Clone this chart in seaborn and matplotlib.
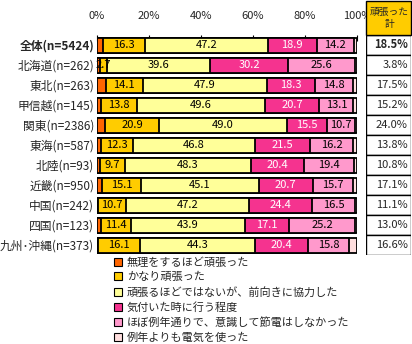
import matplotlib
matplotlib.use("Agg")
import matplotlib.pyplot as plt
import seaborn as sns
import pandas as pd
import numpy as np
from matplotlib.patches import Patch, Rectangle

sns.set_theme(style="white")
plt.rcParams['font.family'] = ['Noto Sans CJK JP', 'DejaVu Sans']

categories = ["全体(n=5424)", "北海道(n=262)", "東北(n=263)", "甲信越(n=145)", "関東(n=2386)",
              "東海(n=587)", "北陸(n=93)", "近畿(n=950)", "中国(n=242)", "四国(n=123)", "九州･沖縄(n=373)"]
series_names = ["無理をするほど頑張った", "かなり頑張った", "頑張るほどではないが、前向きに協力した",
                "気付いた時に行う程度", "ほぼ例年通りで、意識して節電はしなかった", "例年よりも電気を使った"]
s1 = [2.2, 1.1, 3.4, 1.4, 3.1, 1.5, 1.1, 2.0, 0.4, 1.6, 0.5]
s2 = [16.3, 2.7, 14.1, 13.8, 20.9, 12.3, 9.7, 15.1, 10.7, 11.4, 16.1]
s3 = [47.2, 39.6, 47.9, 49.6, 49.0, 46.8, 48.3, 45.1, 47.2, 43.9, 44.3]
s4 = [18.9, 30.2, 18.3, 20.7, 15.5, 21.5, 20.4, 20.7, 24.4, 17.1, 20.4]
s5 = [14.2, 25.6, 14.8, 13.1, 10.7, 16.2, 19.4, 15.7, 16.5, 25.2, 15.8]
s6 = [1.2, 0.8, 1.5, 1.4, 0.8, 1.7, 1.1, 1.4, 0.8, 0.8, 2.9]
total_label = ["18.5%", "3.8%", "17.5%", "15.2%", "24.0%", "13.8%", "10.8%", "17.1%", "11.1%", "13.0%", "16.6%"]
xticks = [0, 20, 40, 60, 80, 100]
xtick_labels = ["0%", "20%", "40%", "60%", "80%", "100%"]
header = "頑張った\n計"

colors = ["#FF6600", "#FFCC00", "#FFFF99", "#F5338F", "#FF99CC", "#FFDEDE"]
series = [s1, s2, s3, s4, s5, s6]

W, H = 412, 344
fig = plt.figure(figsize=(W / 100, H / 100), dpi=100)
ax = fig.add_axes([97 / W, 1 - 255 / H, 260 / W, 220 / H])

vals = np.array(series)
cum = np.cumsum(vals, axis=0)
df = pd.DataFrame({"cat": categories})
for i in range(len(series)):
    df[f"c{i}"] = cum[i]

for i in reversed(range(len(series))):
    sns.barplot(data=df, x=f"c{i}", y="cat", color=colors[i], edgecolor="black",
                linewidth=1.3, width=0.75, orient="h", ax=ax, saturation=1)

ax.set_xlim(0, 100)
ax.set_ylim(10.5, -0.5)
ax.set_xlabel("")
ax.set_ylabel("")
for sp in ax.spines.values():
    sp.set_visible(False)
ax.xaxis.tick_top()
ax.set_xticks(xticks)
ax.set_xticklabels(xtick_labels, fontsize=8)
ax.tick_params(axis="x", direction="in", length=4, width=0.8, color="black", pad=10, top=True, bottom=False)
ax.tick_params(axis="y", length=0, pad=2)
ax.set_yticks(range(len(categories)))
ax.set_yticklabels(categories, fontsize=8.5)
ax.get_yticklabels()[0].set_fontweight("bold")

for r in range(len(categories)):
    for i in (1, 2, 3, 4):
        v = vals[i][r]
        center = cum[i][r] - v / 2
        ax.text(center, r, f"{v:.1f}", ha="center", va="center", fontsize=8,
                color="white" if i == 3 else "black")

# right-side table
tx0, tw = 366 / W, 45 / W
fig.patches.append(Rectangle((tx0, 1 - 35 / H), tw, 34.5 / H, transform=fig.transFigure,
                             facecolor="#FFCC00", edgecolor="black", linewidth=1))
fig.text(tx0 + tw / 2 + 1 / W, 1 - 18 / H, header, ha="center", va="center", fontsize=7, linespacing=1.35)
tax = fig.add_axes([tx0, 1 - 255 / H, tw, 220 / H])
tax.set_xlim(0, 1)
tax.set_ylim(10.5, -0.5)
tax.axis("off")
for r, lab in enumerate(total_label):
    tax.add_patch(Rectangle((0, r - 0.5), 1, 1, facecolor="white", edgecolor="black", linewidth=1))
    tax.text(0.93, r, lab, ha="right", va="center", fontsize=8,
             fontweight="bold" if r == 0 else "normal")

handles = [Patch(facecolor=c, edgecolor="black", linewidth=0.8) for c in colors]
fig.legend(handles, series_names, loc="upper left", bbox_to_anchor=(114 / W, 1 - 257 / H),
           frameon=False, fontsize=8, handlelength=0.75, handleheight=0.75, handletextpad=0.4,
           labelspacing=0.4, borderpad=0, borderaxespad=0)

fig.savefig("out.png", dpi=100)
